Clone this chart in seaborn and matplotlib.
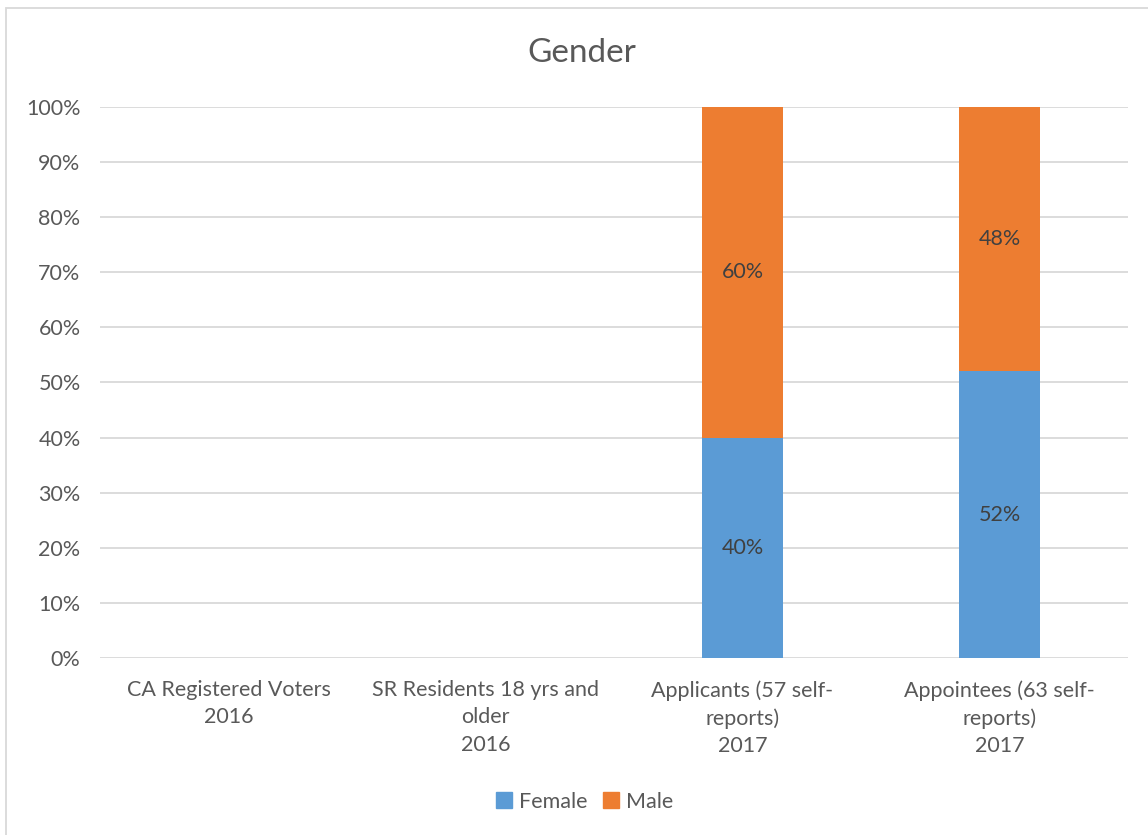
import numpy as np
import pandas as pd
import seaborn as sns
import matplotlib.pyplot as plt
from matplotlib.patches import Rectangle
from matplotlib.lines import Line2D

# chart data
categories = [
    "CA Registered Voters\n2016",
    "SR Residents 18 yrs and\nolder\n2016",
    "Applicants (57 self-\nreports)\n2017",
    "Appointees (63 self-\nreports)\n2017",
]
female = [np.nan, np.nan, 40, 52]
male = [np.nan, np.nan, 60, 48]
series_names = ["Female", "Male"]
y_ticks = [0, 10, 20, 30, 40, 50, 60, 70, 80, 90, 100]

FEMALE_COLOR = "#5B9BD5"
MALE_COLOR = "#ED7D31"
TEXT_COLOR = "#595959"
GRID_COLOR = "#D9D9D9"

sns.set_style("white")
plt.rcParams['font.family'] = ['Lato', 'DejaVu Sans']

df = pd.DataFrame({"category": categories, "female": female, "male": male})
df["total"] = df["female"] + df["male"]

fig = plt.figure(figsize=(11.48, 8.35), dpi=100)
ax = fig.add_axes([0.0871, 0.2120, 0.8955, 0.6599])

# stacked bars: draw totals first, then female on top
sns.barplot(data=df, x="category", y="total", order=categories,
            color=MALE_COLOR, width=0.315, linewidth=0, saturation=1, ax=ax, zorder=3)
sns.barplot(data=df, x="category", y="female", order=categories,
            color=FEMALE_COLOR, width=0.315, linewidth=0, saturation=1, ax=ax, zorder=3)

# data labels
for i, (f, m) in enumerate(zip(female, male)):
    if not np.isnan(f):
        ax.text(i, f / 2, f"{f:.0f}%", ha="center", va="center",
                fontsize=15.5, color="#404040", zorder=4)
    if not np.isnan(m):
        ax.text(i, f + m / 2, f"{m:.0f}%", ha="center", va="center",
                fontsize=15.5, color="#404040", zorder=4)

ax.set_ylim(0, 100)
ax.set_xlim(-0.5, len(categories) - 0.5)
ax.set_yticks(y_ticks)
ax.set_yticklabels([f"{t}%" for t in y_ticks])
ax.set_xticks(range(len(categories)))
ax.set_xticklabels(categories, linespacing=1.45)
ax.yaxis.grid(True, color=GRID_COLOR, linewidth=1.3, zorder=0)
ax.set_axisbelow(True)
for s in ax.spines.values():
    s.set_visible(False)
ax.tick_params(axis="both", length=0, labelsize=15.5, colors=TEXT_COLOR)
ax.tick_params(axis="y", pad=14)
ax.tick_params(axis="x", pad=16)
ax.set_xlabel("")
ax.set_ylabel("")

fig.text(0.5065, 0.937, "Gender", ha="center", va="center",
         fontsize=24, color=TEXT_COLOR)

handles = [
    Line2D([0], [0], marker="s", linestyle="", markersize=11, color=FEMALE_COLOR),
    Line2D([0], [0], marker="s", linestyle="", markersize=11, color=MALE_COLOR),
]
fig.legend(handles, series_names, loc="center", bbox_to_anchor=(0.508, 0.040),
           ncol=2, frameon=False, fontsize=15.5, labelcolor=TEXT_COLOR,
           handletextpad=0.2, columnspacing=0.6, handlelength=1.0)

# chart border (cropped on right and bottom)
fig.patches.append(Rectangle((6 / 1148, -0.05), 1.2, 1 - 8 / 835 + 0.05,
                             transform=fig.transFigure, fill=False,
                             edgecolor=GRID_COLOR, linewidth=1.3))

fig.savefig("out.png", dpi=100, facecolor="white")
